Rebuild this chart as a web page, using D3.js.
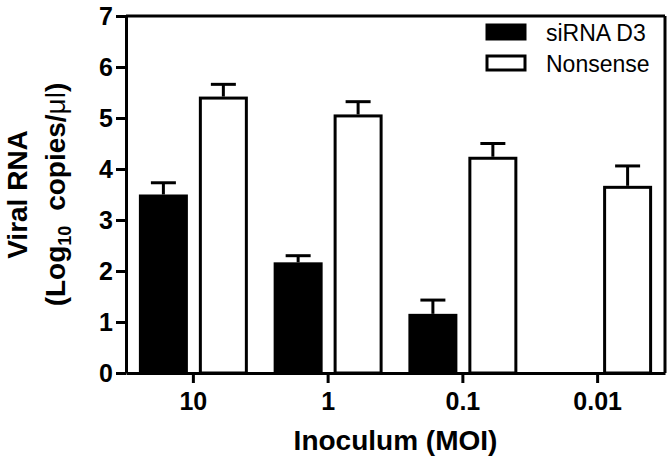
<!DOCTYPE html>
<html>
<head>
<meta charset="utf-8">
<script src="https://cdn.jsdelivr.net/npm/d3@7"></script>
<style>
  body { margin: 0; background: #fff; }
  svg { display: block; }
  text { font-family: "Liberation Sans", Arial, sans-serif; fill: #000; }
</style>
</head>
<body>
<div class="chart"></div>
<script>
// data
var inocula = ["10", "1", "0.1", "0.01"];
var seriesNames = ["siRNA D3", "Nonsense"];
var sirnaMean = [3.50, 2.17, 1.16, null];
var sirnaErr = [0.23, 0.13, 0.27, null];
var nonsenseMean = [5.42, 5.07, 4.24, 3.67];
var nonsenseErr = [0.24, 0.25, 0.26, 0.39];
var yTicks = [0, 1, 2, 3, 4, 5, 6, 7];

var width = 672, height = 464;
var plotLeft = 126, plotRight = 665, plotTop = 16, plotBottom = 373;

var svg = d3.select(".chart").append("svg")
    .attr("width", width)
    .attr("height", height);

/************* scales ***************/
var x0 = d3.scaleBand()
    .domain(inocula)
    .range([plotLeft, plotRight])
    .padding(0);

var x1 = d3.scaleBand()
    .domain(seriesNames)
    .range([0, x0.bandwidth()])
    .paddingInner(0.183)
    .paddingOuter(0.215);

var y = d3.scaleLinear()
    .domain([0, 7])
    .range([plotBottom, plotTop]);

// build rows for each series
var rows = [];
inocula.forEach(function(c, i) {
    rows.push({cat: c, series: seriesNames[0], value: sirnaMean[i], err: sirnaErr[i]});
    rows.push({cat: c, series: seriesNames[1], value: nonsenseMean[i], err: nonsenseErr[i]});
});
rows = rows.filter(function(d) { return d.value != null; });

/************* error bars (drawn first, bars cover the lower part) ***************/
var errG = svg.append("g").attr("class", "errors");
rows.forEach(function(d) {
    var cx = x0(d.cat) + x1(d.series) + x1.bandwidth() / 2;
    errG.append("line")
        .attr("x1", cx).attr("x2", cx)
        .attr("y1", y(d.value)).attr("y2", y(d.value + d.err))
        .attr("stroke", "#000").attr("stroke-width", 3);
    errG.append("line")
        .attr("x1", cx - 12.5).attr("x2", cx + 12.5)
        .attr("y1", y(d.value + d.err)).attr("y2", y(d.value + d.err))
        .attr("stroke", "#000").attr("stroke-width", 3);
});

/************* bars ***************/
svg.append("g").attr("class", "bars")
    .selectAll("rect")
    .data(rows)
    .enter().append("rect")
        .attr("x", function(d) { return x0(d.cat) + x1(d.series) + 1.5; })
        .attr("width", x1.bandwidth() - 3)
        .attr("y", function(d) { return y(d.value) + 1.5; })
        .attr("height", function(d) { return y(0) - y(d.value) - 1.5; })
        .attr("fill", function(d) { return d.series == seriesNames[0] ? "#000" : "#fff"; })
        .attr("stroke", "#000")
        .attr("stroke-width", 3);

/************* frame (top + right) ***************/
svg.append("line")
    .attr("x1", plotLeft).attr("x2", plotRight)
    .attr("y1", plotTop).attr("y2", plotTop)
    .attr("stroke", "#000").attr("stroke-width", 3);
svg.append("line")
    .attr("x1", plotRight).attr("x2", plotRight)
    .attr("y1", plotTop).attr("y2", plotBottom)
    .attr("stroke", "#000").attr("stroke-width", 3);

/************* axes ***************/
var yAxis = svg.append("g")
    .attr("transform", "translate(" + plotLeft + ",0)")
    .call(d3.axisLeft(y).tickValues(yTicks).tickFormat(d3.format("d"))
        .tickSize(10).tickSizeOuter(0).tickPadding(3));

var xAxis = svg.append("g")
    .attr("transform", "translate(0," + plotBottom + ")")
    .call(d3.axisBottom(x0).tickSize(10).tickSizeOuter(0).tickPadding(9));

[yAxis, xAxis].forEach(function(ax) {
    ax.attr("font-size", 25).attr("font-family", "Liberation Sans, Arial, sans-serif");
    ax.select(".domain").attr("stroke", "#000").attr("stroke-width", 3);
    ax.selectAll(".tick line").attr("stroke", "#000").attr("stroke-width", 3);
    ax.selectAll(".tick text")
        .attr("font-weight", "bold")
        .attr("fill", "#000");
});

/************* axis titles ***************/
var midY = (plotTop + plotBottom) / 2;
svg.append("text")
    .attr("transform", "translate(27," + midY + ") rotate(-90)")
    .attr("text-anchor", "middle")
    .attr("font-size", 28)
    .attr("font-weight", "bold")
    .text("Viral RNA");

var yt2 = svg.append("text")
    .attr("transform", "translate(65," + midY + ") rotate(-90)")
    .attr("text-anchor", "middle")
    .attr("font-size", 28)
    .attr("font-weight", "bold");
yt2.append("tspan").text("(Log");
yt2.append("tspan").attr("font-size", 18).attr("dy", 6).text("10");
yt2.append("tspan").attr("dy", -6).attr("dx", 7).text(" copies/");
yt2.append("tspan").attr("font-weight", "normal").text("\u03bcl");
yt2.append("tspan").text(")");

svg.append("text")
    .attr("x", (plotLeft + plotRight) / 2)
    .attr("y", 450)
    .attr("text-anchor", "middle")
    .attr("font-size", 28)
    .attr("font-weight", "bold")
    .text("Inoculum (MOI)");

/************* legend ***************/
var legend = svg.append("g").attr("class", "legend");
seriesNames.forEach(function(name, i) {
    var ly = 25 + i * 31;
    legend.append("rect")
        .attr("x", 487).attr("y", ly)
        .attr("width", 38).attr("height", 14)
        .attr("fill", i == 0 ? "#000" : "#fff")
        .attr("stroke", "#000").attr("stroke-width", 3);
    legend.append("text")
        .attr("x", 546).attr("y", ly + 16)
        .attr("font-size", 23)
        .text(name);
});
</script>
</body>
</html>
